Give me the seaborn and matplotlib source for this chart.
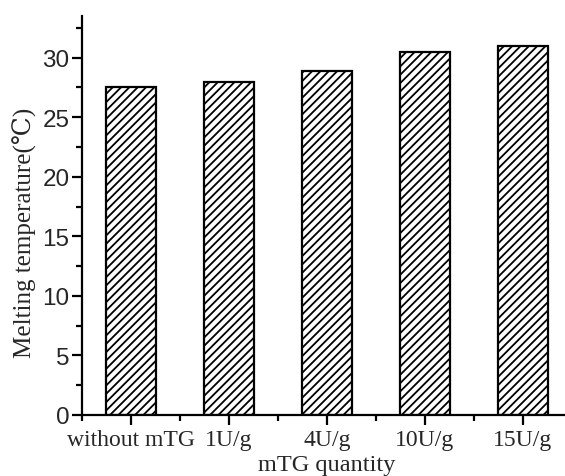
import matplotlib
matplotlib.use("Agg")
import matplotlib.pyplot as plt
import seaborn as sns
import pandas as pd
from matplotlib.ticker import MultipleLocator

categories = ["without mTG", "1U/g", "4U/g", "10U/g", "15U/g"]
melting_temp = [27.5, 28.0, 28.85, 30.5, 30.95]
y_ticks = [0, 5, 10, 15, 20, 25, 30]

sns.set_style("ticks")
plt.rcParams["font.family"] = ["Liberation Serif", "DejaVu Serif"]
plt.rcParams["hatch.linewidth"] = 1.3

df = pd.DataFrame({"group": categories, "temp": melting_temp})

fig = plt.figure(figsize=(5.65, 4.77), dpi=100)
ax = fig.add_axes([82 / 565, 61 / 477, 490 / 565, 399 / 477])

sns.barplot(data=df, x="group", y="temp", order=categories, color="white",
            edgecolor="black", linewidth=1.6, width=0.51, hatch="////",
            saturation=1, ax=ax)

ax.set_xlim(-0.5, 4.5)
ax.set_ylim(0, 33.5)
ax.set_yticks(y_ticks)
ax.yaxis.set_minor_locator(MultipleLocator(2.5))
ax.set_xticks(range(len(categories)))
ax.set_xticks([i - 0.5 for i in range(len(categories) + 1)], minor=True)

for lab in ax.get_yticklabels():
    lab.set_family(["Liberation Sans", "DejaVu Sans"])
    lab.set_fontsize(17.5)
ax.set_xticklabels(categories, fontsize=17)

ax.tick_params(axis="both", which="major", direction="out", length=7, width=1.6, color="black")
ax.tick_params(axis="both", which="minor", direction="out", length=4, width=1.6, color="black")
ax.tick_params(axis="y", pad=2)
ax.tick_params(axis="x", pad=3)

for s in ["left", "bottom"]:
    ax.spines[s].set_linewidth(1.6)
    ax.spines[s].set_color("black")
for s in ["top", "right"]:
    ax.spines[s].set_visible(False)

ax.set_ylabel("Melting temperature(℃)", fontsize=18,
              family=["Liberation Serif", "DejaVu Serif", "DejaVu Sans"])
ax.yaxis.set_label_coords(-0.092, 0.46)
ax.set_xlabel("mTG quantity", fontsize=17.5, labelpad=3)

fig.savefig("out.png", dpi=100)
